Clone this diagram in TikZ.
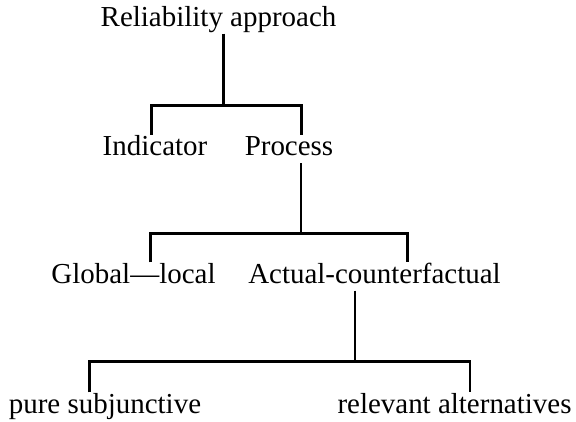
\documentclass[tikz,border=0pt]{standalone}
\usepackage{fontspec}
\setmainfont{Liberation Serif}
\usepackage{tikz}

\begin{document}
\begin{tikzpicture}[
    term/.style={anchor=base,inner xsep=0pt,inner ysep=0pt,text height=14.4pt,text depth=5.2pt,font=\fontsize{20.6}{24}\selectfont},
    link/.style={line width=2pt}]
  \useasboundingbox (0,0) rectangle (14.4,-10.525);
  % level 0 to 3
  \node[term] (root) at (5.4625,-0.65)   {Reliability approach};
  \node[term] (ind)  at (3.875,-3.8875)  {Indicator};
  \node[term] (proc) at (7.225,-3.8875)  {Process};
  \node[term] (glob) at (3.3375,-7.075)  {Global—local};
  \node[term] (act)  at (9.3625,-7.075)  {Actual-counterfactual};
  \node[term] (pure) at (2.625,-10.325)  {pure subjunctive};
  \node[term] (rel)  at (11.3625,-10.325) {relevant alternatives};
  % forks
  \coordinate (f1) at (5.5875,-2.6375);
  \coordinate (f1l) at (3.7875,0);  \coordinate (f1r) at (7.5375,0);
  \coordinate (f2) at (7.525,-5.8325);
  \coordinate (f2l) at (3.7625,0);  \coordinate (f2r) at (10.1875,0);
  \coordinate (f3) at (8.875,-9.0375);
  \coordinate (f3l) at (2.2325,0);  \coordinate (f3r) at (11.75,0);
  \draw[link] (root.south -| f1) -- (f1);
  \draw[link] (ind.north -| f1l) |- (f1) -| (proc.north -| f1r);
  \draw[link] (proc.south -| f2) -- (f2);
  \draw[link] (glob.north -| f2l) |- (f2) -| (act.north -| f2r);
  \draw[link] (act.south -| f3) -- (f3);
  \draw[link] (pure.north -| f3l) |- (f3) -| (rel.north -| f3r);
\end{tikzpicture}
\end{document}
